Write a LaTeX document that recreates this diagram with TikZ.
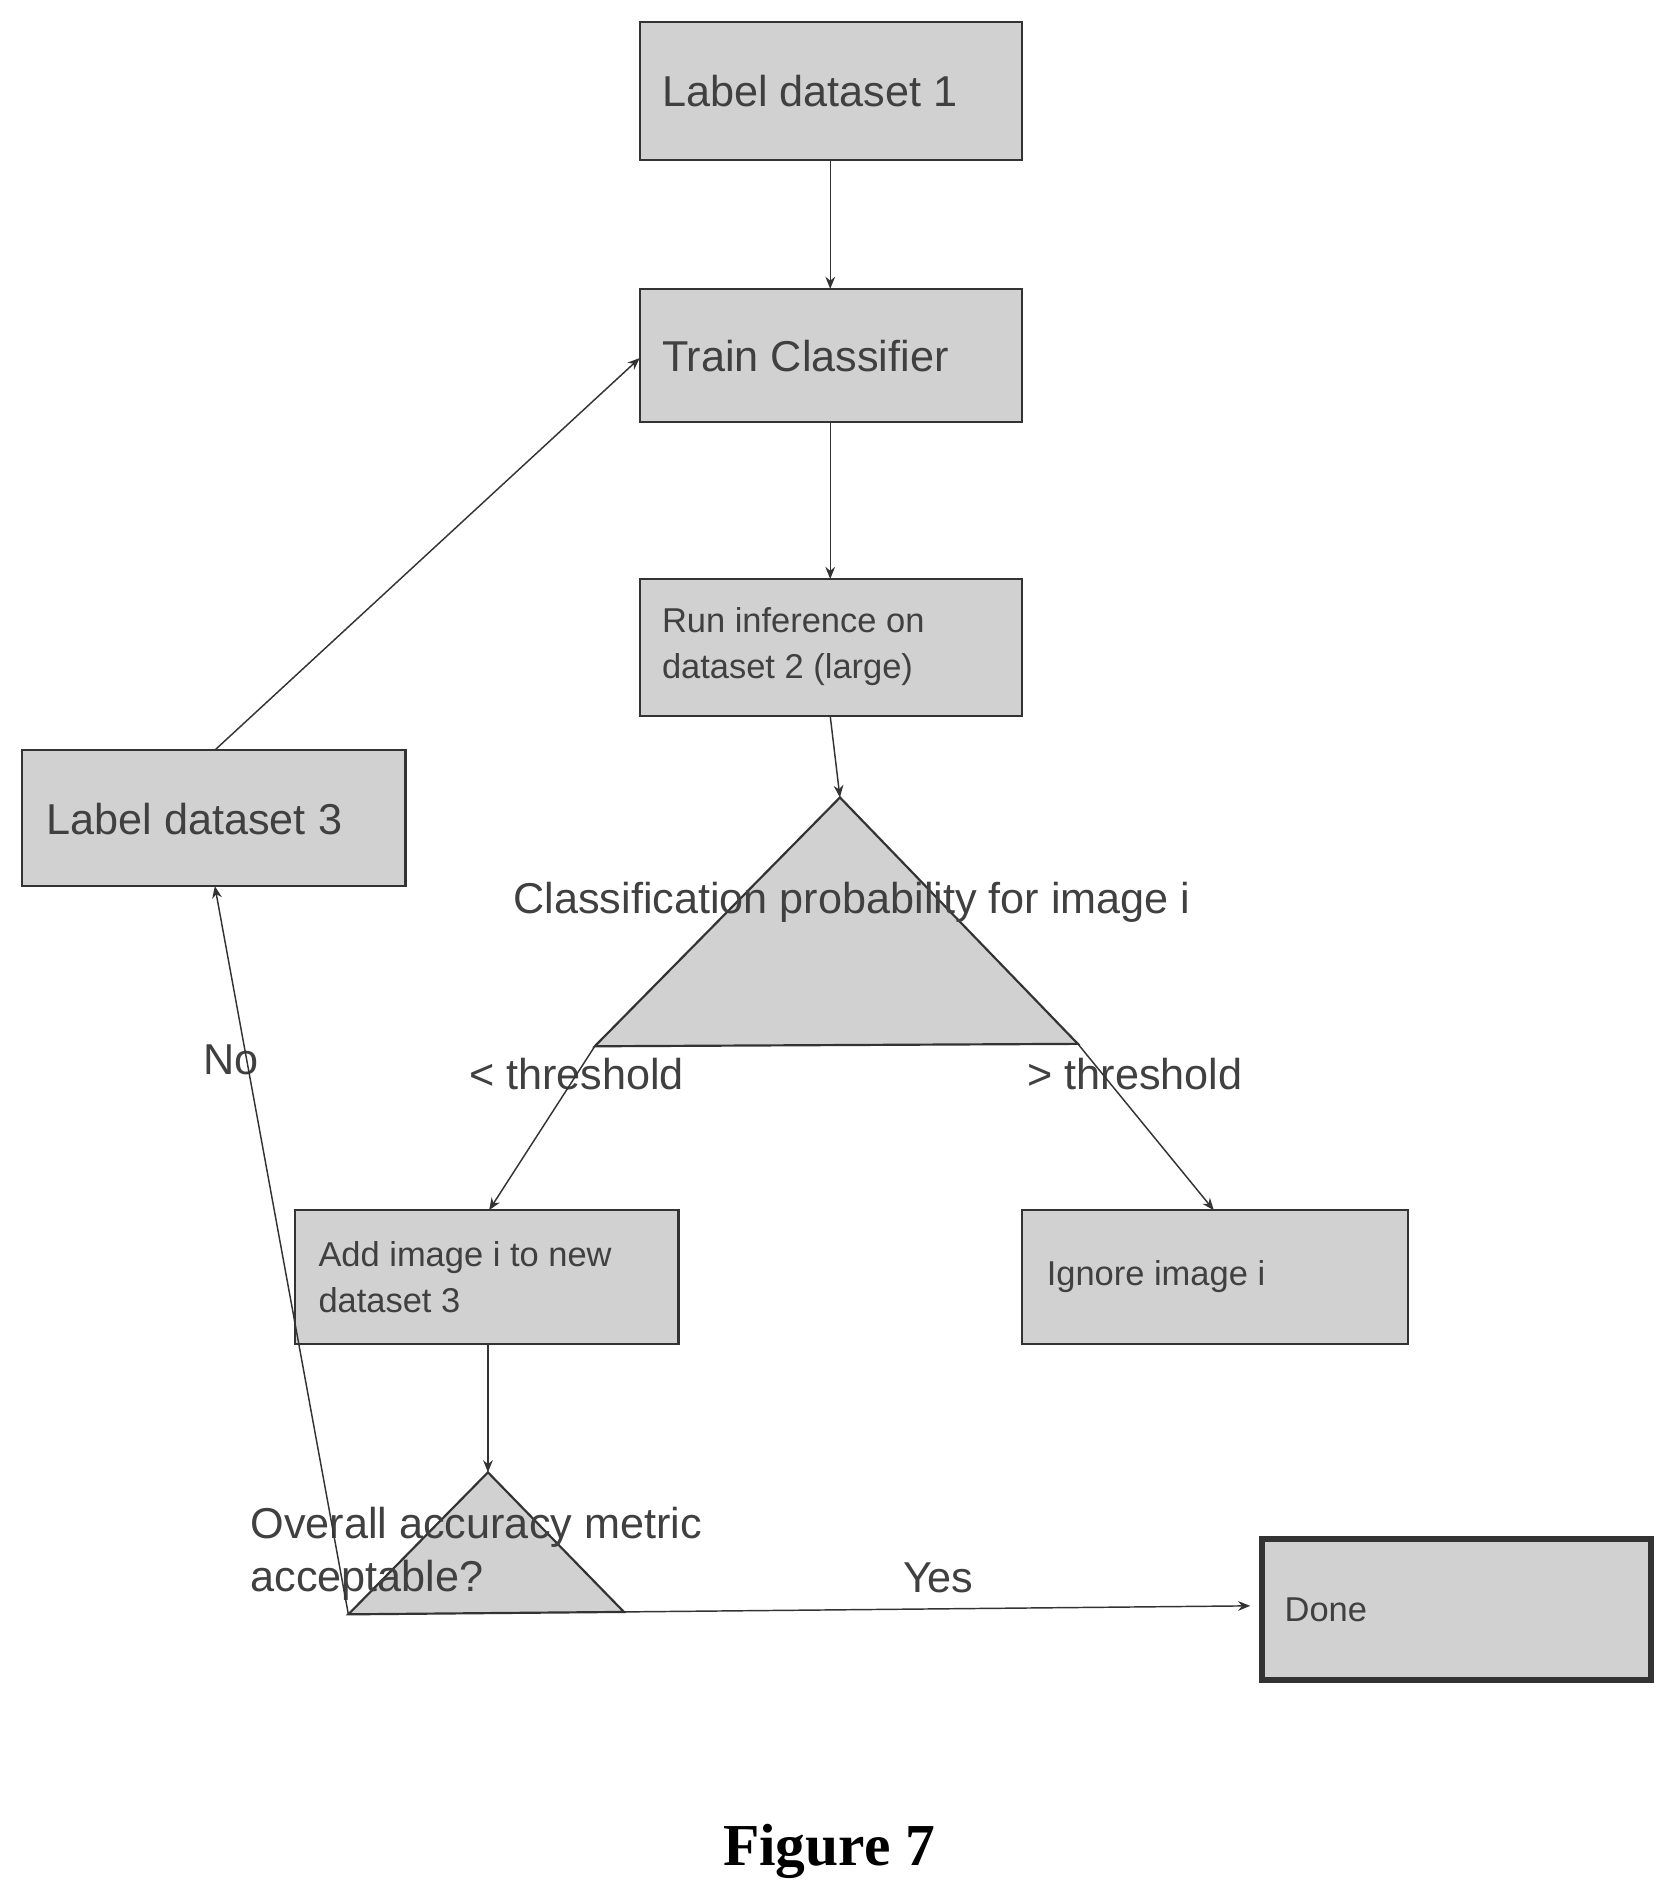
\documentclass[tikz,border=0pt]{standalone}
\usepackage{fontspec}
\setmainfont{Liberation Sans}
\newfontfamily\figfont{Liberation Serif}
\usetikzlibrary{arrows.meta}
\begin{document}
\begin{tikzpicture}[x=0.5pt,y=-0.5pt,
  box/.style={draw=black!80,fill=black!18,line width=0.9pt},
  arr/.style={draw=black!80,line width=0.6pt,-{Stealth[length=5pt,width=4pt]}},
  big/.style={font=\fontsize{17.8}{22}\selectfont,text=black!75,inner sep=0pt},
  small/.style={font=\fontsize{14.2}{19}\selectfont,text=black!75,align=left,anchor=west,inner sep=0pt}]
\useasboundingbox (0,0) rectangle (1380,1567);
% boxes
\draw[box] (527,18) rectangle (842,132);
\node[big,anchor=west] (l1) at (545,75) {Label dataset 1};
\draw[box] (527,238) rectangle (842,348);
\node[big,anchor=west] (tc) at (545,293) {Train Classifier};
\draw[box] (527,477) rectangle (842,590);
\node[small] (ri) at (545,533) {Run inference on\\dataset 2 (large)};
\draw[box] (18,618) rectangle (334,730);
\node[big,anchor=west] (l3) at (38,675) {Label dataset 3};
\draw[box] (243,997) rectangle (559,1107);
\node[small] (ad) at (262,1052) {Add image i to new\\dataset 3};
\draw[box] (842,997) rectangle (1160,1107);
\node[small] (ig) at (862,1052) {Ignore image i};
\draw[box,line width=2.5pt] (1040,1268) rectangle (1360,1384);
\node[small] (dn) at (1058,1326) {Done};
% triangles
\draw[box] (692,657) -- (888,860) -- (490,862) -- cycle;
\draw[box] (402,1213) -- (514,1328) -- (287,1330) -- cycle;
\node[big] (cp) at (702,743) {Classification probability for image i};
\node[big,align=left,anchor=west] (oa) at (206,1280) {Overall accuracy metric\\acceptable?};
\node[big] (lt) at (475,885) {< threshold};
\node[big] (gt) at (935,885) {> threshold};
\node[big] (no) at (190,873) {No};
\node[big] (ys) at (773,1300) {Yes};
\node[font=\figfont\bfseries\fontsize{24.5}{28}\selectfont] (fig) at (683,1525) {Figure 7};
% coordinates
\coordinate (a1) at (684,132); \coordinate (b1) at (684,238);
\coordinate (a2) at (684,348); \coordinate (b2) at (684,477);
\coordinate (a3) at (684,590); \coordinate (b3) at (692,657);
\coordinate (t1l) at (490,862); \coordinate (t1r) at (888,860);
\coordinate (adt) at (403,997); \coordinate (igt) at (1000,997);
\coordinate (adb) at (402,1107); \coordinate (t2a) at (402,1213);
\coordinate (t2l) at (287,1330); \coordinate (t2r) at (514,1328);
\coordinate (dnl) at (1030,1323);
\coordinate (l3b) at (177,730); \coordinate (l3t) at (177,618);
\coordinate (tcl) at (527,295);
\draw[arr] (a1) -- (b1);
\draw[arr] (a2) -- (b2);
\draw[arr] (a3) -- (b3);
\draw[arr] (t1l) -- (adt);
\draw[arr] (t1r) -- (igt);
\draw[arr] (adb) -- (t2a);
\draw[arr] (t2r) -- (dnl);
\draw[arr] (t2l) -- (l3b);
\draw[arr] (l3t) -- (tcl);
\end{tikzpicture}
\end{document}
